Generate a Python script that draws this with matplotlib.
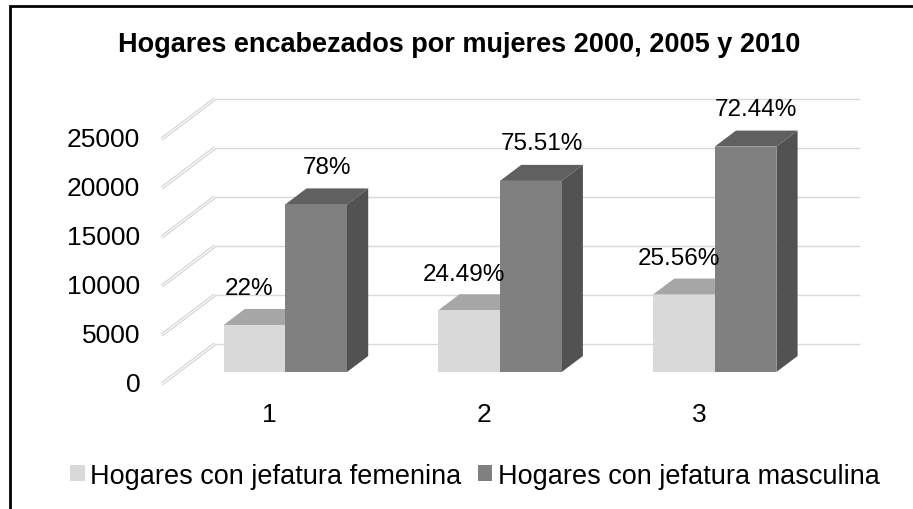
import matplotlib
matplotlib.use('Agg')
import matplotlib.pyplot as plt
from matplotlib.patches import Polygon, Patch, Rectangle

# data
categories = ['1', '2', '3']
femenina = [4800, 6300, 7900]
masculina = [17100, 19500, 23000]
fem_labels = ['22%', '24.49%', '25.56%']
masc_labels = ['78%', '75.51%', '72.44%']
yticks = [0, 5000, 10000, 15000, 20000, 25000]
title = 'Hogares encabezados por mujeres 2000, 2005 y 2010'
legend_names = ['Hogares con jefatura femenina', 'Hogares con jefatura masculina']

plt.rcParams['font.family'] = ['Liberation Sans', 'DejaVu Sans']

fig = plt.figure(figsize=(9.13, 5.10), dpi=100)
ax = fig.add_axes([0, 0, 1, 1])
ax.set_xlim(-0.3288, 3.9236)
ax.set_ylim(-13980, 38061)
ax.axis('off')

# 3d look: bar width, full depth of the floor (in data units)
w = 0.2874
DX, DY = 0.2469, 4082
f0 = 0.3          # bars sit from 0.3 to 0.7 of the depth
bd = 0.4

def off(f):
    return (f - f0) * DX, (f - f0) * DY

# back wall + gridlines + left diagonal lines
wx, wy = off(1.0)
fx, fy = off(0.0)
x_left = 1 - w - 0.214           # floor edge, in the bar-front plane
x_right = 3 + w + 0.214
for v in yticks:
    ax.plot([x_left + wx, x_right + wx], [v + wy, v + wy], color='#d9d9d9', lw=1.0, zorder=1)
    ax.plot([x_left + fx, x_left + wx], [v + fy, v + wy], color='#cfcfcf', lw=2.4, zorder=1,
            solid_capstyle='butt')
    ax.plot([x_left + fx, x_left + wx], [v + fy, v + wy], color='white', lw=0.9, zorder=1.1,
            solid_capstyle='butt')
    ax.text(x_left + fx - 0.1, v + fy, str(v), ha='right', va='center', fontsize=19)

bdx, bdy = bd * DX, bd * DY

def bar3d(x0, h, front, top, side):
    x1 = x0 + w
    ax.add_patch(Polygon([(x0, h), (x1, h), (x1 + bdx, h + bdy), (x0 + bdx, h + bdy)],
                         closed=True, facecolor=top, edgecolor='none', zorder=3))
    ax.add_patch(Polygon([(x1, 0), (x1 + bdx, bdy), (x1 + bdx, h + bdy), (x1, h)],
                         closed=True, facecolor=side, edgecolor='none', zorder=3))
    ax.add_patch(Rectangle((x0, 0), w, h, facecolor=front, edgecolor='none', zorder=3))

for i, c in enumerate([1, 2, 3]):
    bar3d(c - w, femenina[i], '#d9d9d9', '#a6a6a6', '#bfbfbf')
    bar3d(c, masculina[i], '#808080', '#606060', '#525252')
    ax.text(c - w / 2 - 0.025, femenina[i] + bdy + 2100, fem_labels[i],
            ha='center', va='center', fontsize=17.5, zorder=5)
    ax.text(c + w / 2 + bdx / 2, masculina[i] + bdy + 2200, masc_labels[i],
            ha='center', va='center', fontsize=17.5, zorder=5)
    ax.text(c + fx, fy - 3060, categories[i], ha='center', va='center', fontsize=19)

fig.text(0.503, 0.912, title, ha='center', va='center', fontsize=19.5, fontweight='bold')

handles = [Patch(facecolor='#d9d9d9', edgecolor='none'),
           Patch(facecolor='#808080', edgecolor='none')]
fig.legend(handles, legend_names, loc='center', bbox_to_anchor=(0.52, 0.065), ncol=2,
           frameon=False, fontsize=19.5, handlelength=0.55, handleheight=0.55,
           handletextpad=0.2, columnspacing=0.6, borderpad=0)

# outer frame (only left and top edges fall inside the picture)
fig.patches.append(Rectangle((10 / 913, -0.05), 1.0, (510 - 7) / 510 + 0.05,
                             transform=fig.transFigure, fill=False, edgecolor='black', lw=2))

fig.savefig('out.png', dpi=100)
